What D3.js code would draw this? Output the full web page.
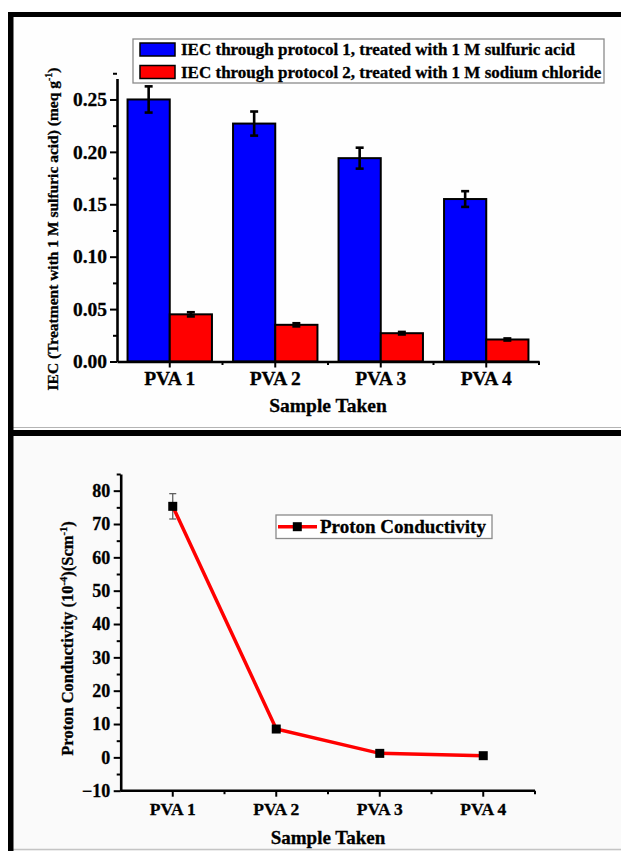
<!DOCTYPE html>
<html>
<head>
<meta charset="utf-8">
<script src="https://cdn.jsdelivr.net/npm/d3@7"></script>
<style>
  body { margin: 0; background: #ffffff; }
  svg { display: block; }
</style>
</head>
<body>
<svg id="fig" width="621" height="851"></svg>
<script>
// ---- data ----
const samples = ["PVA 1", "PVA 2", "PVA 3", "PVA 4"];

const iecSulfuric = [0.250, 0.227, 0.194, 0.155];
const iecSulfuricErr = [0.0125, 0.0115, 0.0100, 0.0075];
const iecChloride = [0.045, 0.035, 0.027, 0.021];
const iecChlorideErr = [0.0020, 0.0015, 0.0012, 0.0010];
const iecTicks = [0, 0.05, 0.10, 0.15, 0.20, 0.25];
const iecLegend = [
  "IEC through protocol 1, treated with 1 M sulfuric acid",
  "IEC through protocol 2, treated with 1 M sodium chloride"
];

const conductivity = [75.3, 8.5, 1.2, 0.5];
const conductivityErr = [3.8, 0, 0, 0];
const condTicks = [-10, 0, 10, 20, 30, 40, 50, 60, 70, 80];
const condLegend = "Proton Conductivity";

const SERIF = '"Liberation Serif", "Times New Roman", Times, serif';
const svg = d3.select("#fig");

// ---- panel backgrounds and frame ----
svg.append("rect").attr("x", 0).attr("y", 0).attr("width", 621).attr("height", 851).attr("fill", "#ffffff");
svg.append("rect").attr("x", 13).attr("y", 17).attr("width", 608).attr("height", 413).attr("fill", "#fefefe");
svg.append("rect").attr("x", 13).attr("y", 436).attr("width", 608).attr("height", 415).attr("fill", "#fafafa");
svg.append("line").attr("x1", 13).attr("x2", 621).attr("y1", 427.5).attr("y2", 427.5)
  .attr("stroke", "#b4b4b4").attr("stroke-width", 1.2);
svg.append("line").attr("x1", 13).attr("x2", 621).attr("y1", 849.5).attr("y2", 849.5)
  .attr("stroke", "#c4c4c4").attr("stroke-width", 1.5);
svg.append("rect").attr("x", 8).attr("y", 12).attr("width", 613).attr("height", 5).attr("fill", "#000");
svg.append("rect").attr("x", 8).attr("y", 430).attr("width", 613).attr("height", 6).attr("fill", "#000");
svg.append("rect").attr("x", 8).attr("y", 12).attr("width", 5.5).attr("height", 839).attr("fill", "#000");

function styleAxis(g, fontSize) {
  g.selectAll(".domain").attr("stroke", "#000").attr("stroke-width", 2.6);
  g.selectAll(".tick line").attr("stroke", "#000").attr("stroke-width", 2);
  g.selectAll(".tick text").attr("font-size", fontSize).attr("fill", "#000");
}

// ================= IEC bar chart =================
const x1 = d3.scaleBand().domain(samples).range([117, 539]).padding(0);
const y1 = d3.scaleLinear().domain([0, 0.27]).range([361.5, 78.5]);
const barW = x1.bandwidth() * 0.4;
const iecPanel = svg.append("g");

// bars
const series = [
  { vals: iecSulfuric, errs: iecSulfuricErr, color: "#0000ff", off: -barW },
  { vals: iecChloride, errs: iecChlorideErr, color: "#ff0000", off: 0 }
];
series.forEach(s => {
  iecPanel.append("g").selectAll("rect").data(samples).join("rect")
    .attr("x", d => x1(d) + x1.bandwidth() / 2 + s.off)
    .attr("width", barW)
    .attr("y", (d, i) => y1(s.vals[i]))
    .attr("height", (d, i) => y1(0) - y1(s.vals[i]))
    .attr("fill", s.color).attr("stroke", "#000").attr("stroke-width", 2);
});
// error bars
series.forEach(s => {
  const g = iecPanel.append("g").attr("stroke", "#000").attr("stroke-width", 2.6);
  samples.forEach((d, i) => {
    const cx = x1(d) + x1.bandwidth() / 2 + s.off + barW / 2;
    const hi = y1(s.vals[i] + s.errs[i]), lo = y1(s.vals[i] - s.errs[i]);
    g.append("line").attr("x1", cx).attr("x2", cx).attr("y1", hi).attr("y2", lo);
    g.append("line").attr("x1", cx - 4).attr("x2", cx + 4).attr("y1", hi).attr("y2", hi);
    g.append("line").attr("x1", cx - 4).attr("x2", cx + 4).attr("y1", lo).attr("y2", lo);
  });
});

// axes
const iecMinor = iecTicks.map(t => t + 0.025);
iecPanel.append("g").attr("transform", "translate(117,0)")
  .call(d3.axisLeft(y1).tickValues(iecMinor).tickSize(4).tickFormat("").tickSizeOuter(0))
  .call(g => styleAxis(g, 19.5)).call(g => g.select(".domain").remove());
iecPanel.append("g").attr("transform", "translate(117,0)")
  .call(d3.axisLeft(y1).tickValues(iecTicks).tickFormat(d3.format(".2f")).tickSize(7).tickPadding(3).tickSizeOuter(0))
  .call(g => styleAxis(g, 19.5));
const xMinor1 = samples.map(s => x1(s)).concat([x1.range()[1]]);
iecPanel.append("g").selectAll("line").data(xMinor1.slice(1)).join("line")
  .attr("x1", d => d).attr("x2", d => d).attr("y1", y1(0)).attr("y2", y1(0) + 3.5)
  .attr("stroke", "#000").attr("stroke-width", 2);
iecPanel.append("g").attr("transform", `translate(0,${y1(0)})`)
  .call(d3.axisBottom(x1).tickSize(6).tickPadding(3.3).tickSizeOuter(0))
  .call(g => styleAxis(g, 19.5));

iecPanel.append("text").attr("x", 328).attr("y", 411.5).attr("text-anchor", "middle")
  .attr("font-size", 19.5).text("Sample Taken");

const yt1 = iecPanel.append("text").attr("transform", "translate(58,229) rotate(-90)")
  .attr("text-anchor", "middle").attr("font-size", 15.5);
yt1.append("tspan").text("IEC (Treatment with 1 M sulfuric acid) (meq g");
yt1.append("tspan").attr("font-size", 10).attr("dy", -6).text("-1");
yt1.append("tspan").attr("dy", 6).text(")");

// legend
const lg1 = iecPanel.append("g");
lg1.append("rect").attr("x", 133).attr("y", 39).attr("width", 471).attr("height", 44)
  .attr("fill", "#ffffff").attr("stroke", "#8a8a8a").attr("stroke-width", 1.3);
[{ c: "#0000ff", t: iecLegend[0], cy: 49.5 }, { c: "#ff0000", t: iecLegend[1], cy: 72 }].forEach(e => {
  lg1.append("rect").attr("x", 140).attr("y", e.cy - 6.5).attr("width", 35).attr("height", 13)
    .attr("fill", e.c).attr("stroke", "#000").attr("stroke-width", 1.5);
  lg1.append("text").attr("x", 181).attr("y", e.cy + 5.8).attr("font-size", 17).text(e.t);
});

// ================= proton conductivity line chart =================
const x2 = d3.scaleBand().domain(samples).range([121, 535]).padding(0);
const y2 = d3.scaleLinear().domain([-10, 85]).range([790.7, 474]);
const condPanel = svg.append("g");
const cx2 = d => x2(d) + x2.bandwidth() / 2;

const condMinor = d3.range(-5, 90, 10);
condPanel.append("g").attr("transform", "translate(120.7,0)")
  .call(d3.axisLeft(y2).tickValues(condMinor).tickSize(4).tickFormat("").tickSizeOuter(0))
  .call(g => styleAxis(g, 18)).call(g => g.select(".domain").remove());
condPanel.append("g").attr("transform", "translate(120.7,0)")
  .call(d3.axisLeft(y2).tickValues(condTicks).tickSize(7).tickPadding(3.5).tickSizeOuter(0))
  .call(g => styleAxis(g, 18));
const xMinor2 = samples.map(s => x2(s)).concat([x2.range()[1]]);
condPanel.append("g").selectAll("line").data(xMinor2.slice(1)).join("line")
  .attr("x1", d => d).attr("x2", d => d).attr("y1", y2(-10)).attr("y2", y2(-10) + 3.5)
  .attr("stroke", "#000").attr("stroke-width", 2);
condPanel.append("g").attr("transform", `translate(0,${y2(-10)})`)
  .call(d3.axisBottom(x2).tickSize(6).tickPadding(5.5).tickSizeOuter(0))
  .call(g => styleAxis(g, 17.5))
  .call(g => g.select(".domain").attr("d", `M${120.7},0H${x2.range()[1]}`));

// error bar
const eg = condPanel.append("g").attr("stroke", "#555").attr("stroke-width", 1.2);
samples.forEach((d, i) => {
  if (!conductivityErr[i]) return;
  const hi = y2(conductivity[i] + conductivityErr[i]), lo = y2(conductivity[i] - conductivityErr[i]);
  eg.append("line").attr("x1", cx2(d)).attr("x2", cx2(d)).attr("y1", hi).attr("y2", lo);
  eg.append("line").attr("x1", cx2(d) - 3.5).attr("x2", cx2(d) + 3.5).attr("y1", hi).attr("y2", hi);
  eg.append("line").attr("x1", cx2(d) - 3.5).attr("x2", cx2(d) + 3.5).attr("y1", lo).attr("y2", lo);
});

// line and markers
condPanel.append("path").datum(samples)
  .attr("d", d3.line().x(d => cx2(d)).y((d, i) => y2(conductivity[i])))
  .attr("fill", "none").attr("stroke", "#ff0000").attr("stroke-width", 3.5);
condPanel.append("g").selectAll("rect").data(samples).join("rect")
  .attr("x", d => cx2(d) - 4.5).attr("y", (d, i) => y2(conductivity[i]) - 4.5)
  .attr("width", 9).attr("height", 9).attr("fill", "#000");

condPanel.append("text").attr("x", 328).attr("y", 844).attr("text-anchor", "middle")
  .attr("font-size", 19).text("Sample Taken");

const yt2 = condPanel.append("text").attr("transform", "translate(73,638.5) rotate(-90)")
  .attr("text-anchor", "middle").attr("font-size", 16.5);
yt2.append("tspan").text("Proton Conductivity (10");
yt2.append("tspan").attr("font-size", 10.5).attr("dy", -6.5).text("-4");
yt2.append("tspan").attr("dy", 6.5).text(")(Scm");
yt2.append("tspan").attr("font-size", 10.5).attr("dy", -6.5).text("-1");
yt2.append("tspan").attr("dy", 6.5).text(")");

// legend
const lg2 = condPanel.append("g");
lg2.append("rect").attr("x", 276).attr("y", 515).attr("width", 216).attr("height", 23.5)
  .attr("fill", "#ffffff").attr("stroke", "#8a8a8a").attr("stroke-width", 1.3);
lg2.append("line").attr("x1", 278).attr("x2", 317).attr("y1", 526.7).attr("y2", 526.7)
  .attr("stroke", "#ff0000").attr("stroke-width", 3.5);
lg2.append("rect").attr("x", 297.3 - 4.5).attr("y", 526.7 - 4.5).attr("width", 9).attr("height", 9).attr("fill", "#000");
lg2.append("text").attr("x", 320).attr("y", 533).attr("font-size", 19).text(condLegend);

// all lettering: bold serif, slightly heavy
svg.selectAll("text")
  .style("font-family", SERIF)
  .style("font-weight", "bold")
  .attr("fill", "#000")
  .attr("stroke", "#000").attr("stroke-width", 0.3);
</script>
</body>
</html>
